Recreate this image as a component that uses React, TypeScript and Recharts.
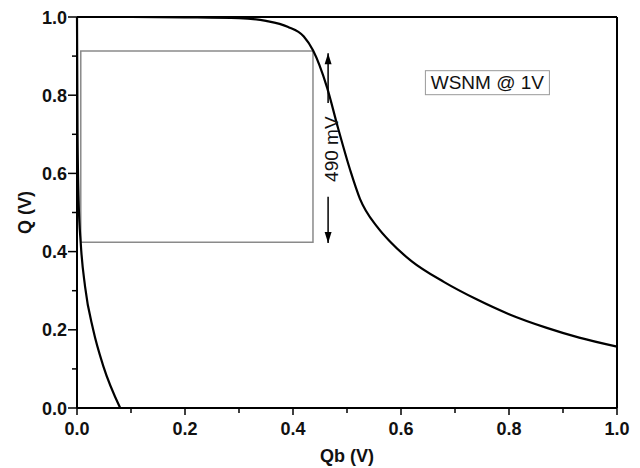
import React from "react";
import {
    LineChart, Line, XAxis, YAxis, ReferenceArea, ReferenceLine, ReferenceDot, Label,
} from "recharts";

// inverter 1 transfer curve: Q vs Qb
const qbRight = [0, 0.1, 0.2, 0.3, 0.35, 0.39, 0.42, 0.437, 0.463, 0.483, 0.506, 0.524, 0.556, 0.58, 0.62, 0.68, 0.74, 0.8, 0.87, 0.93, 1.0];
const qRight = [1.0, 1.0, 0.999, 0.997, 0.99, 0.975, 0.95, 0.915, 0.82, 0.718, 0.608, 0.535, 0.463, 0.425, 0.375, 0.322, 0.278, 0.24, 0.205, 0.18, 0.157];

// inverter 2 (mirrored) curve
const qbLeft = [0, 0.001, 0.003, 0.007, 0.015, 0.03, 0.049, 0.08];
const qLeft = [1.0, 0.7, 0.53, 0.42, 0.31, 0.2, 0.106, 0.0];

const axisTicks = [0, 0.1, 0.2, 0.3, 0.4, 0.5, 0.6, 0.7, 0.8, 0.9, 1.0];

// noise margin square + annotation
const squareQb = [0.007, 0.437];
const squareQ = [0.424, 0.913];
const arrowQb = 0.465;
const arrowQ = [0.907, 0.78, 0.54, 0.422];
const marginLabel = "490 mV";
const legendText = "WSNM @ 1V";

const rightData = qbRight.map((qb, i) => ({ qb, q: qRight[i] }));
const leftData = qbLeft.map((qb, i) => ({ qb, q: qLeft[i] }));

const FONT = "'Liberation Sans', Arial, Helvetica, sans-serif";

function XTick({ x, y, payload }: any) {
    const v = payload.value;
    const major = Math.round(v * 10) % 2 === 0;
    const ay = y - 8;
    return (
        <g>
            <line x1={x} x2={x} y1={ay} y2={ay + (major ? 7 : 5)} stroke="#000" strokeWidth={1.5} />
            {major && (
                <text x={x} y={ay + 27} textAnchor="middle" fontFamily={FONT} fontWeight="bold" fontSize={18} fill="#111">
                    {v.toFixed(1)}
                </text>
            )}
        </g>
    );
}

function YTick({ x, y, payload }: any) {
    const v = payload.value;
    const major = Math.round(v * 10) % 2 === 0;
    const ax = x + 8;
    return (
        <g>
            <line x1={ax} x2={ax - (major ? 9 : 5)} y1={y} y2={y} stroke="#000" strokeWidth={1.5} />
            {major && (
                <text x={ax - 10} y={y + 6.5} textAnchor="end" fontFamily={FONT} fontWeight="bold" fontSize={18} fill="#111">
                    {v.toFixed(1)}
                </text>
            )}
        </g>
    );
}

function ArrowShape({ x1, y1, x2, y2, up }: any) {
    const tipY = up ? Math.min(y1, y2) : Math.max(y1, y2);
    const dir = up ? 1 : -1;
    return (
        <g>
            <line x1={x1} y1={y1} x2={x2} y2={y2} stroke="#000" strokeWidth={1.5} />
            <polygon
                points={`${x1},${tipY} ${x1 - 3.5},${tipY + dir * 11} ${x1 + 3.5},${tipY + dir * 11}`}
                fill="#000"
            />
        </g>
    );
}

export default function App() {
    return (
        <div style={{ position: "absolute", left: 0, top: 0, width: 640, height: 468, background: "#fff" }}>
            <LineChart width={640} height={468} data={rightData} margin={{ top: 17, right: 23, left: 0, bottom: 0 }}>
                <XAxis
                    dataKey="qb"
                    type="number"
                    domain={[0, 1]}
                    ticks={axisTicks}
                    interval={0}
                    height={60}
                    tickSize={6}
                    tickMargin={2}
                    tickLine={false}
                    axisLine={{ stroke: "#000", strokeWidth: 2 }}
                    tick={<XTick />}
                >
                    <Label
                        content={({ viewBox }: any) => (
                            <text
                                x={viewBox.x + viewBox.width / 2}
                                y={viewBox.y + 54}
                                textAnchor="middle"
                                fontFamily={FONT}
                                fontWeight="bold"
                                fontSize={18}
                                fill="#111"
                            >
                                Qb (V)
                            </text>
                        )}
                    />
                </XAxis>
                <YAxis
                    dataKey="q"
                    type="number"
                    domain={[0, 1]}
                    ticks={axisTicks}
                    interval={0}
                    width={77}
                    tickSize={6}
                    tickMargin={2}
                    tickLine={false}
                    axisLine={{ stroke: "#000", strokeWidth: 2 }}
                    tick={<YTick />}
                >
                    <Label
                        content={({ viewBox }: any) => {
                            const cx = 25;
                            const cy = viewBox.y + viewBox.height / 2;
                            return (
                                <text
                                    x={cx}
                                    y={cy}
                                    transform={`rotate(-90 ${cx} ${cy})`}
                                    textAnchor="middle"
                                    dominantBaseline="central"
                                    fontFamily={FONT}
                                    fontWeight="bold"
                                    fontSize={18}
                                    fill="#111"
                                >
                                    Q (V)
                                </text>
                            );
                        }}
                    />
                </YAxis>
                <ReferenceLine y={1} stroke="#000" strokeWidth={2} />
                <ReferenceLine x={1} stroke="#000" strokeWidth={2} />
                <ReferenceArea
                    x1={squareQb[0]}
                    x2={squareQb[1]}
                    y1={squareQ[0]}
                    y2={squareQ[1]}
                    fill="none"
                    fillOpacity={0}
                    stroke="#8a8a8a"
                    strokeWidth={1.5}
                />
                <Line
                    data={rightData}
                    dataKey="q"
                    type="monotone"
                    stroke="#000"
                    strokeWidth={2.2}
                    dot={false}
                    isAnimationActive={false}
                />
                <Line
                    data={leftData}
                    dataKey="q"
                    type="monotone"
                    stroke="#000"
                    strokeWidth={2.2}
                    dot={false}
                    isAnimationActive={false}
                />
                <ReferenceLine
                    segment={[{ x: arrowQb, y: arrowQ[0] }, { x: arrowQb, y: arrowQ[1] }]}
                    shape={(p: any) => <ArrowShape {...p} up />}
                />
                <ReferenceLine
                    segment={[{ x: arrowQb, y: arrowQ[2] }, { x: arrowQb, y: arrowQ[3] }]}
                    shape={(p: any) => <ArrowShape {...p} up={false} />}
                />
                <ReferenceDot
                    x={0.472}
                    y={0.662}
                    r={0}
                    fill="none"
                    stroke="none"
                    label={({ viewBox }: any) => {
                        const cx = viewBox.x + viewBox.width / 2;
                        const cy = viewBox.y + viewBox.height / 2;
                        return (
                            <text
                                x={cx}
                                y={cy}
                                transform={`rotate(-90 ${cx} ${cy})`}
                                textAnchor="middle"
                                dominantBaseline="central"
                                fontFamily={FONT}
                                fontSize={19}
                                fill="#111"
                            >
                                {marginLabel}
                            </text>
                        );
                    }}
                />
                <ReferenceDot
                    x={0.76}
                    y={0.832}
                    r={0}
                    fill="none"
                    stroke="none"
                    label={({ viewBox }: any) => {
                        const cx = viewBox.x + viewBox.width / 2;
                        const cy = viewBox.y + viewBox.height / 2;
                        return (
                            <g>
                                <rect x={cx - 62} y={cy - 12} width={124} height={24} fill="#fff" stroke="#999" strokeWidth={1} />
                                <text
                                    x={cx}
                                    y={cy}
                                    textAnchor="middle"
                                    dominantBaseline="central"
                                    fontFamily={FONT}
                                    fontSize={19}
                                    fill="#111"
                                >
                                    {legendText}
                                </text>
                            </g>
                        );
                    }}
                />
            </LineChart>
        </div>
    );
}
